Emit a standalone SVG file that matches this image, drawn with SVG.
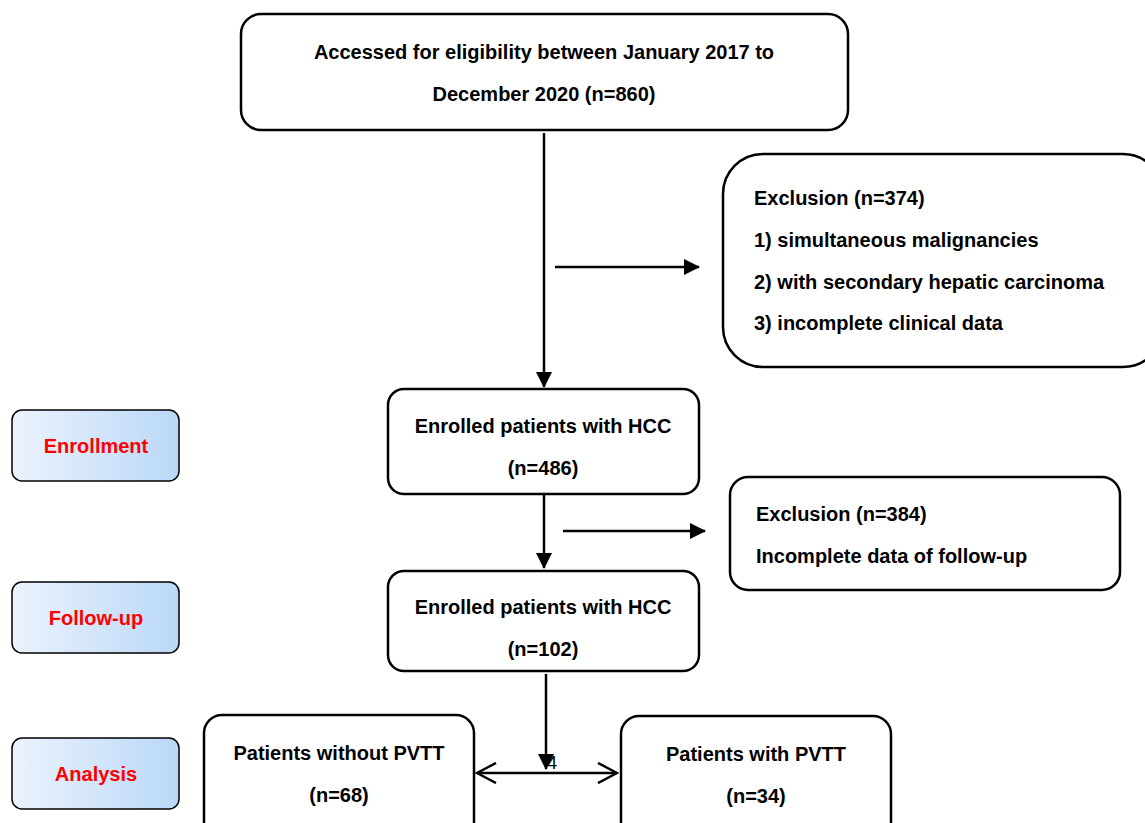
<svg xmlns="http://www.w3.org/2000/svg" width="1145" height="823" viewBox="0 0 1145 823">
<style>
.box{fill:#fff;stroke:#000;stroke-width:2.5}
.stage{stroke:#000;stroke-width:1.5;fill:url(#grad)}
.t{font-family:"Liberation Sans",Arial,sans-serif;font-weight:bold;font-size:20px;fill:#000}
.c{text-anchor:middle}
.s{font-family:"Liberation Sans",Arial,sans-serif;font-weight:bold;font-size:20px;fill:#ff0000;text-anchor:middle}
.ln{stroke:#000;stroke-width:2.5;fill:none}
</style>
<defs>
<linearGradient id="grad" x1="0" y1="0" x2="1" y2="0">
<stop offset="0" stop-color="#ecf3fd"/>
<stop offset="1" stop-color="#bad8f7"/>
</linearGradient>
<marker id="ahb" markerWidth="16" markerHeight="16" refX="15" refY="8" orient="auto" markerUnits="userSpaceOnUse" viewBox="0 0 16 16">
<path d="M0,0 L16,8 L0,16 Z" fill="#000"/>
</marker>
<marker id="open" markerWidth="22" markerHeight="22" refX="20" refY="11" orient="auto-start-reverse" markerUnits="userSpaceOnUse" viewBox="0 0 22 22">
<path d="M1,1 L20,11 L1,21" fill="none" stroke="#000" stroke-width="2.5"/>
</marker>
</defs>
<rect width="1145" height="823" fill="#fff"/>

<g id="connectors">
<line class="ln" x1="544" y1="133" x2="544" y2="387" marker-end="url(#ahb)"/>
<line class="ln" x1="555" y1="267" x2="699" y2="267" marker-end="url(#ahb)"/>
<line class="ln" x1="544" y1="494" x2="544" y2="568" marker-end="url(#ahb)"/>
<line class="ln" x1="563" y1="531" x2="705" y2="531" marker-end="url(#ahb)"/>
<line class="ln" x1="546" y1="674" x2="546" y2="769" marker-end="url(#ahb)"/>
<line class="ln" x1="477" y1="773" x2="617" y2="773" marker-start="url(#open)" marker-end="url(#open)"/>
<text x="547" y="769" font-family="Liberation Sans, Arial, sans-serif" font-size="18" fill="#000">4</text>
</g>

<g id="n-assessed">
<rect class="box" x="241" y="14" width="607" height="116" rx="20"/>
<text class="t c" x="544" y="59">Accessed for eligibility between January 2017 to</text>
<text class="t c" x="544" y="101">December 2020 (n=860)</text>
</g>

<g id="n-excl1">
<rect class="box" x="723" y="154" width="440" height="213" rx="40"/>
<text class="t" x="754" y="205">Exclusion (n=374)</text>
<text class="t" x="754" y="247">1) simultaneous malignancies</text>
<text class="t" x="754" y="289">2) with secondary hepatic carcinoma</text>
<text class="t" x="754" y="330">3) incomplete clinical data</text>
</g>

<g id="n-enrolled1">
<rect class="box" x="388" y="389" width="311" height="105" rx="16"/>
<text class="t c" x="543" y="433">Enrolled patients with HCC</text>
<text class="t c" x="543" y="475">(n=486)</text>
</g>

<g id="n-excl2">
<rect class="box" x="730" y="477" width="390" height="113" rx="18"/>
<text class="t" x="756" y="521">Exclusion (n=384)</text>
<text class="t" x="756" y="563">Incomplete data of follow-up</text>
</g>

<g id="n-enrolled2">
<rect class="box" x="388" y="571" width="311" height="100" rx="16"/>
<text class="t c" x="543" y="614">Enrolled patients with HCC</text>
<text class="t c" x="543" y="656">(n=102)</text>
</g>

<g id="n-without">
<rect class="box" x="204" y="715" width="270" height="125" rx="18"/>
<text class="t c" x="339" y="760">Patients without PVTT</text>
<text class="t c" x="339" y="802">(n=68)</text>
</g>

<g id="n-with">
<rect class="box" x="621" y="716" width="270" height="125" rx="18"/>
<text class="t c" x="756" y="761">Patients with PVTT</text>
<text class="t c" x="756" y="803">(n=34)</text>
</g>

<g id="s-enrollment">
<rect class="stage" x="12" y="410" width="167" height="71" rx="10"/>
<text class="s" x="96" y="453">Enrollment</text>
</g>
<g id="s-followup">
<rect class="stage" x="12" y="582" width="167" height="71" rx="10"/>
<text class="s" x="96" y="625">Follow-up</text>
</g>
<g id="s-analysis">
<rect class="stage" x="12" y="738" width="167" height="71" rx="10"/>
<text class="s" x="96" y="781">Analysis</text>
</g>
</svg>
